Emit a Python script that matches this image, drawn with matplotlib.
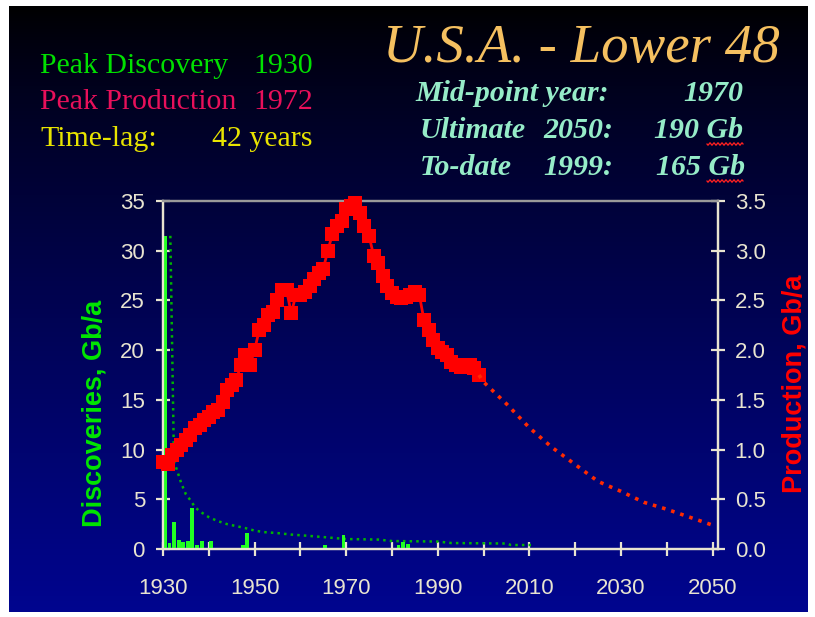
"""U.S.A. Lower 48 discovery / production chart (Campbell style slide)."""

import numpy as np
import matplotlib

matplotlib.use("Agg")
import matplotlib.pyplot as plt  # noqa: E402

# --- data ----------------------------------------------------------------
prod_years = list(range(1930, 2000))
prod_values = [
    0.87, 0.85, 0.95, 1.00, 1.05, 1.10, 1.15, 1.22, 1.25, 1.30,
    1.33, 1.38, 1.40, 1.48, 1.60, 1.65, 1.70, 1.85, 1.95, 1.85,
    2.00, 2.20, 2.25, 2.35, 2.38, 2.50, 2.60, 2.60, 2.37, 2.55,
    2.55, 2.58, 2.65, 2.72, 2.78, 2.82, 3.00, 3.17, 3.25, 3.30,
    3.42, 3.45, 3.48, 3.38, 3.25, 3.15, 2.95, 2.88, 2.75, 2.65,
    2.57, 2.53, 2.52, 2.53, 2.55, 2.58, 2.55, 2.30, 2.20, 2.10,
    2.02, 1.98, 1.95, 1.88, 1.85, 1.83, 1.85, 1.85, 1.82, 1.75,
]

forecast_years = [1999, 2000, 2005, 2010, 2015, 2020, 2025, 2030, 2035, 2040, 2045, 2050]
forecast_values = [1.75, 1.68, 1.46, 1.22, 1.02, 0.85, 0.68, 0.58, 0.47, 0.40, 0.32, 0.24]

disc_years = [1930, 1931, 1932, 1933, 1934, 1935, 1936, 1937, 1938, 1940,
              1947, 1948, 1965, 1969, 1981, 1982, 1983]
disc_values = [31.5, 0.6, 2.7, 0.9, 0.7, 0.8, 4.1, 0.4, 0.8, 0.8,
               0.4, 1.6, 0.4, 1.4, 0.4, 0.7, 0.5]

avg_years = [1931.6, 1932.4, 1933, 1934, 1935, 1936, 1937, 1938, 1939, 1940,
             1942, 1944, 1946, 1948, 1950, 1952, 1955, 1958, 1961, 1965,
             1970, 1977, 1980, 1990, 1993, 2005, 2006, 2011]
avg_values = [31.5, 8.8, 8.0, 6.6, 5.5, 4.9, 4.2, 3.8, 3.5, 3.2,
              2.8, 2.5, 2.3, 2.1, 1.85, 1.7, 1.6, 1.45, 1.35, 1.2,
              1.0, 0.95, 0.8, 0.75, 0.6, 0.55, 0.4, 0.4]

x_ticks = list(range(1930, 2051, 10))
x_labels = [str(y) if (y - 1930) % 20 == 0 else "" for y in x_ticks]
left_ticks = list(range(0, 36, 5))
right_ticks = [0.0, 0.5, 1.0, 1.5, 2.0, 2.5, 3.0, 3.5]

# --- figure -----------------------------------------------------------------
W, H = 815, 617
fig = plt.figure(figsize=(W / 100, H / 100), dpi=100, facecolor="white")


def px(x, y):
    """Pixel position (from top-left) to figure fraction."""
    return x / W, 1 - y / H


# gradient background, black at top to dark blue at bottom
bg = fig.add_axes([9 / W, 5 / H, (808 - 9) / W, (612 - 6) / H])
t = np.linspace(0, 1, 256) ** 0.8
grad = np.zeros((256, 1, 3))
grad[:, 0, 2] = 0.56 * t
grad[:, 0, 1] = 0.02 * t
bg.imshow(grad, aspect="auto", extent=(0, 1, 1, 0))
bg.axis("off")

ax = fig.add_axes([163 / W, (H - 549) / H, (718 - 163) / W, (549 - 201) / H])
ax.patch.set_alpha(0)
ax2 = ax.twinx()

tick_col = "#e8e4d0"
sans = "Liberation Sans"

# discoveries: bars and dotted running average
ax.bar(disc_years, disc_values, width=0.85, align="edge", color="#22ff22", zorder=3)
ax.plot(avg_years, avg_values, linestyle=":", color="#00b400", linewidth=1.8, zorder=2)

# production: history with squares, forecast dotted
ax2.plot(prod_years, prod_values, color="#ff0000", linewidth=2, marker="s",
         markersize=10.5, markeredgewidth=0, zorder=4, clip_on=False)
ax2.plot(forecast_years, forecast_values, color="#ff2a00", linestyle=":",
         linewidth=2.6, zorder=4)

ax.set_xlim(1930, 2051.2)
ax.set_ylim(0, 35)
ax2.set_ylim(0, 3.5)
ax.set_xticks(x_ticks)
ax.set_xticklabels(x_labels)
ax.set_yticks(left_ticks)
ax.set_yticklabels([str(v) for v in left_ticks])
ax2.set_yticks(right_ticks)
ax2.set_yticklabels([f"{v:.1f}" for v in right_ticks])

for a in (ax, ax2):
    for side in ("left", "right", "bottom"):
        a.spines[side].set_color(tick_col)
        a.spines[side].set_linewidth(1.6)
    a.spines["top"].set_color("#9a9a9a")
    a.spines["top"].set_linewidth(1.6)

ax.tick_params(axis="x", direction="inout", length=10, width=1.6, colors=tick_col,
               labelsize=16, pad=16)
ax.tick_params(axis="y", direction="inout", length=10, width=1.6, colors=tick_col,
               labelsize=16, pad=8)
ax2.tick_params(axis="y", direction="inout", length=10, width=1.6, colors=tick_col,
                labelsize=16, pad=7)
for lab in ax.get_xticklabels() + ax.get_yticklabels() + ax2.get_yticklabels():
    lab.set_fontfamily(sans)

fig.text(*px(95, 413), "Discoveries, Gb/a", rotation=90, ha="center", va="center",
         color="#00e600", fontsize=19.5, fontweight="bold", family=sans)
fig.text(*px(795, 384), "Production, Gb/a", rotation=90, ha="center", va="center",
         color="#ff0000", fontsize=19.5, fontweight="bold", family=sans)

# --- header texts ---------------------------------------------------------
serif = "Liberation Serif"
left_rows = [
    ("Peak Discovery", "1930", "#00e000", 73),
    ("Peak Production", "1972", "#e8105a", 109),
    ("Time-lag:", "42 years", "#e8e400", 146),
]
for label, value, col, yb in left_rows:
    fig.text(*px(40, yb), label, color=col, fontsize=21.5, family=serif, va="baseline")
    fig.text(*px(313, yb), value, color=col, fontsize=21.5, family=serif,
             va="baseline", ha="right")

fig.text(*px(383, 62), "U.S.A. - Lower 48", color="#f5c060", fontsize=39.5,
         family=serif, style="italic", va="baseline")

aqua = "#96ecc8"
sub = dict(color=aqua, fontsize=21.5, family=serif, style="italic",
           fontweight="bold", va="baseline")
fig.text(*px(415, 101), "Mid-point year:", **sub)
fig.text(*px(743, 101), "1970", ha="right", **sub)
fig.text(*px(420, 138), "Ultimate", **sub)
fig.text(*px(613, 138), "2050:", ha="right", **sub)
fig.text(*px(743, 138), "190 Gb", ha="right", **sub)
fig.text(*px(420, 175), "To-date", **sub)
fig.text(*px(613, 175), "1999:", ha="right", **sub)
fig.text(*px(745, 175), "165 Gb", ha="right", **sub)

# red spell-check squiggles under "Gb"
wx = np.linspace(707, 743, 60)
for yb in (144, 181):
    wy = yb + 1.2 * np.sin((wx - 707) / 4.0 * 2 * np.pi)
    fig.add_artist(plt.Line2D(wx / W, 1 - wy / H, color="#ff2020", linewidth=0.9))

fig.savefig("out.png", dpi=100, facecolor="white")
